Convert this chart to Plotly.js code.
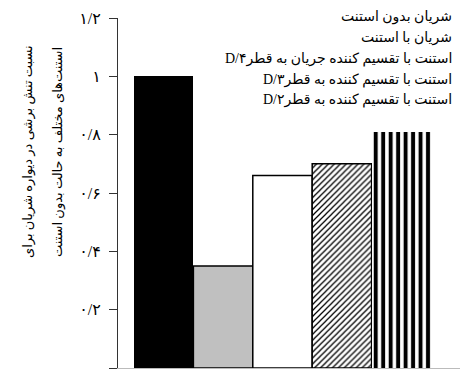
<!DOCTYPE html>
<html>
<head>
<meta charset="utf-8">
<script src="https://cdn.plot.ly/plotly-3.0.1.min.js"></script>
<style>html,body{margin:0;padding:0;background:#fff;}#chart{width:460px;height:369px;}</style>
</head>
<body>
<div id="chart"></div>
<script>
// Categories (legend labels), in bar order
const categories = [
  'شریان بدون استنت',
  'شریان با استنت',
  'استنت با تقسیم کننده جریان به قطرD/۴',
  'استنت با تقسیم کننده به قطرD/۳',
  'استنت با تقسیم کننده به قطرD/۲'
];
// Display versions with LTR-safe ordering so "D/n" sits at the left end
const legendLabels = [
  'شریان بدون استنت',
  'شریان با استنت',
  'D/۴' + 'استنت با تقسیم کننده جریان به قطر',
  'D/۳' + 'استنت با تقسیم کننده به قطر',
  'D/۲' + 'استنت با تقسیم کننده به قطر'
];
// Shear-stress ratio values
const values = [1.0, 0.35, 0.66, 0.70, 0.81];
// Y tick values and Persian labels
const tickVals = [0, 0.2, 0.4, 0.6, 0.8, 1.0, 1.2];
const tickText = ['۰', '۰/۲', '۰/۴', '۰/۶', '۰/۸', '۱', '۱/۲'];
const yTitleLines = [
  'نسبت تنش برشی در دیواره شریان برای',
  'استنت‌های مختلف به حالت بدون استنت'
];

const FONT = 'Liberation Serif, DejaVu Sans, serif';

const styles = [
  { color: '#000000', lw: 0 },
  { color: '#c0c0c0', lw: 1.5 },
  { color: '#ffffff', lw: 1.5 },
  { color: '#ffffff', lw: 1.5, pattern: { shape: '/', fgcolor: '#000000', bgcolor: '#ffffff', size: 4.2, solidity: 0.3 } },
  { color: '#ffffff', lw: 0, pattern: { shape: '|', fgcolor: '#000000', bgcolor: '#ffffff', size: 7.47, solidity: 0.53 } }
];

const traces = categories.map((c, i) => {
  const m = { color: styles[i].color, line: { color: '#000000', width: styles[i].lw } };
  if (styles[i].pattern) m.pattern = styles[i].pattern;
  return {
    type: 'bar', name: c, x: [i], y: [values[i]], width: 1,
    marker: m, showlegend: false, hoverinfo: 'name+y'
  };
});

const annotations = [];
const legendY = [16.5, 37.5, 58.5, 79.5, 99.5];
const plotTop = 18, plotBottom = 368, plotLeft = 118, plotRight = 460;
const pyPaper = (Y) => (plotBottom - Y) / (plotBottom - plotTop);
const pxPaper = (X) => (X - plotLeft) / (plotRight - plotLeft);
legendLabels.forEach((t, i) => {
  annotations.push({
    text: t, xref: 'paper', yref: 'paper',
    x: pxPaper(454), y: pyPaper(legendY[i]),
    xanchor: 'right', yanchor: 'middle', showarrow: false,
    font: { family: FONT, size: 14, color: '#000' }
  });
});
const titleX = [28, 58];
yTitleLines.forEach((t, i) => {
  annotations.push({
    text: t, xref: 'paper', yref: 'paper',
    x: pxPaper(titleX[i]), y: pyPaper(152),
    xanchor: 'center', yanchor: 'middle', textangle: -90, showarrow: false,
    font: { family: FONT, size: 13, color: '#000' }
  });
});

const layout = {
  width: 460, height: 369,
  margin: { l: plotLeft, r: 460 - plotRight, t: plotTop, b: 369 - plotBottom, pad: 0 },
  paper_bgcolor: '#ffffff', plot_bgcolor: '#ffffff',
  bargap: 0, barmode: 'overlay',
  showlegend: false,
  xaxis: {
    range: [-0.769, 4.988],
    showticklabels: false, ticks: '', showgrid: false, zeroline: false,
    showline: true, linecolor: '#bbbbbb', linewidth: 1
  },
  yaxis: {
    range: [0, 1.2],
    tickmode: 'array', tickvals: tickVals, ticktext: tickText,
    ticks: 'outside', ticklen: 8, tickwidth: 1, tickcolor: '#333333',
    ticklabelstandoff: 5,
    showgrid: false, zeroline: false,
    showline: true, linecolor: '#333333', linewidth: 1,
    tickfont: { family: FONT, size: 16, color: '#000' }
  },
  annotations: annotations
};

Plotly.newPlot('chart', traces, layout, { displayModeBar: false, staticPlot: true });
</script>
</body>
</html>
